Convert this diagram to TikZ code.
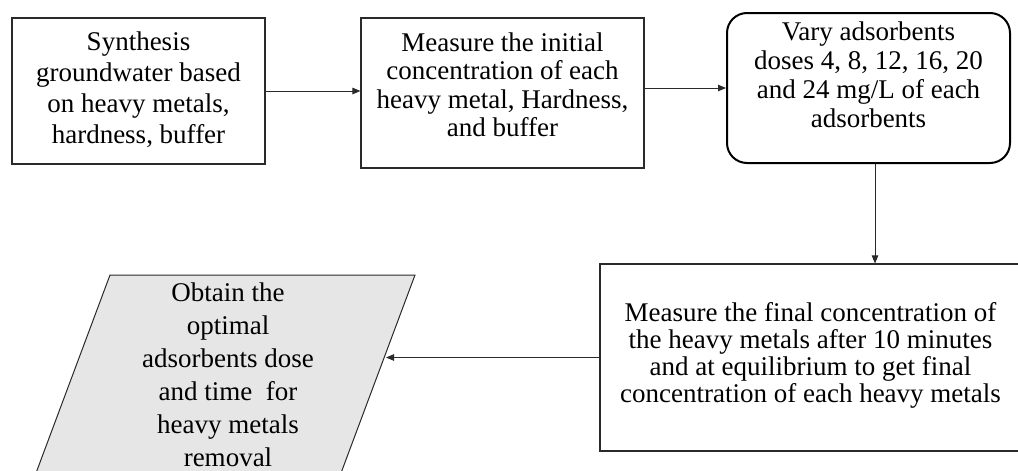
\documentclass[tikz,border=0pt]{standalone}
\usepackage{fontspec}
\setmainfont{Liberation Serif}
\usetikzlibrary{arrows.meta}
\definecolor{paragray}{HTML}{E6E6E6}
\definecolor{linec}{HTML}{2A2A2A}
\tikzset{
  box/.style={draw=linec, line width=1.1pt, inner sep=0pt},
  txt/.style={align=center, inner sep=0pt, font=\fontsize{27}{31}\selectfont},
  arr/.style={draw=linec, line width=0.9pt, -{Triangle[length=8pt,width=6.5pt]}},
}
\begin{document}
\begin{tikzpicture}[x=1pt,y=-1pt]
\useasboundingbox (0,0) rectangle (1018,471);
\clip (0,0) rectangle (1018,471);
\node[box, minimum width=253pt, minimum height=146pt] (b1) at (138.5,91) {};
\node[txt] (t1) at ([yshift=1pt]b1.center)
  {Synthesis\\groundwater based\\on heavy metals,\\hardness, buffer};
\node[box, minimum width=283pt, minimum height=150pt] (b2) at (502.5,93) {};
\node[txt, font=\fontsize{27}{28.5}\selectfont] (t2) at ([yshift=8pt]b2.center)
  {Measure the initial\\concentration of each\\heavy metal, Hardness,\\and buffer};
\node[box, draw=black, line width=2pt, minimum width=283pt, minimum height=150pt, rounded corners=20pt] (b3) at (868.5,88) {};
\node[txt, font=\fontsize{27}{29}\selectfont] (t3) at ([yshift=13pt]b3.center)
  {Vary adsorbents\\doses 4, 8, 12, 16, 20\\and 24 mg/L of each\\adsorbents};
\node[box, minimum width=421pt, minimum height=187pt] (b4) at (810.5,357.5) {};
\node[txt, font=\fontsize{27}{27}\selectfont] (t4) at ([yshift=2pt]b4.center)
  {Measure the final concentration of\\the heavy metals after 10 minutes\\and at equilibrium to get final\\concentration of each heavy metals};
\draw[draw=linec, line width=1pt, fill=paragray] (110,275) -- (415,275) -- (338.4,480) -- (33.4,480) -- cycle;
\node[txt, font=\fontsize{27}{33}\selectfont] (p) at (228,375)
  {Obtain the\\optimal\\adsorbents dose\\and time~ for\\heavy metals\\removal};
\coordinate (pe) at (386,357.5);
\draw[arr] (b1.east) -- (b1.east -| b2.west);
\draw[arr] (b2.east |- b3.west) -- (b3.west);
\draw[arr] ([xshift=6.5pt]b3.south) -- ([xshift=6.5pt]b3.south |- b4.north);
\draw[arr] (b4.west) -- (pe);
\end{tikzpicture}
\end{document}
